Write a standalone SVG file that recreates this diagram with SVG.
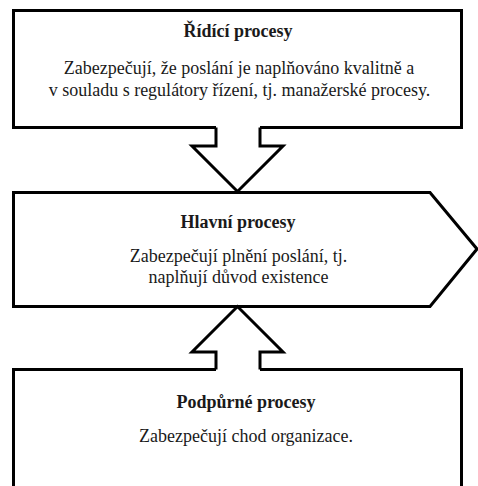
<svg xmlns="http://www.w3.org/2000/svg" width="478" height="486" viewBox="0 0 478 486">
<style>
.shape{fill:#fff;stroke:#000;stroke-width:3;stroke-linejoin:miter}
.arrow{fill:#fff;stroke:#000;stroke-width:3;stroke-linejoin:miter}
text{font-family:'Liberation Serif','Times New Roman',serif;font-size:18px;fill:#1a1a1a;text-anchor:middle}
.b{font-weight:bold}
</style>
<rect width="478" height="486" fill="#fff"/>
<g id="ridici">
<rect class="shape" x="13.5" y="10.5" width="448" height="117"/>
<text class="b" x="238" y="37">Řídící procesy</text>
<text x="239" y="74">Zabezpečují, že poslání je naplňováno kvalitně a</text>
<text x="239.5" y="96">v souladu s regulátory řízení, tj. manažerské procesy.</text>
</g>
<g id="hlavni">
<polygon class="shape" points="13.5,192.5 430,192.5 477,249 430,306.5 13.5,306.5"/>
<text class="b" x="238" y="228">Hlavní procesy</text>
<text x="238.5" y="262">Zabezpečují plnění poslání, tj.</text>
<text x="238.5" y="283">naplňují důvod existence</text>
</g>
<g id="podpurne">
<rect class="shape" x="13.5" y="369.5" width="448" height="130"/>
<text class="b" x="246" y="408">Podpůrné procesy</text>
<text x="246" y="442">Zabezpečují chod organizace.</text>
</g>
<g id="connectors">
<polygon points="216,124 216,146 192,146 237.5,191 283,146 260,146 260,124" fill="#fff" stroke="none"/>
<path class="arrow" d="M216,127.5 V146 H192 L237.5,191.5 L283,146 H260 V127.5"/>
<polygon points="216,372 216,352 192,352 237.5,307 283,352 260,352 260,372" fill="#fff" stroke="none"/>
<path class="arrow" d="M216,369.5 V352 H192 L237.5,306.5 L283,352 H260 V369.5"/>
</g>
</svg>
